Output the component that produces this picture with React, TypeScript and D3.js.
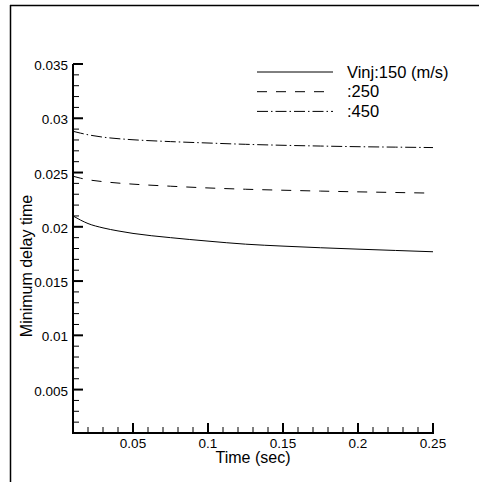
import React from "react";
import * as d3 from "d3";

const times = [0.01, 0.015, 0.02, 0.03, 0.04, 0.05, 0.075, 0.1, 0.125, 0.15, 0.175, 0.2, 0.225, 0.25];
const v150 = [0.021, 0.02062, 0.0203, 0.0199, 0.01962, 0.01939, 0.019, 0.01868, 0.0184, 0.01822, 0.01807, 0.01794, 0.01782, 0.0177];
const v250 = [0.02466, 0.02448, 0.02434, 0.02416, 0.02403, 0.02393, 0.02374, 0.02358, 0.02346, 0.02337, 0.02329, 0.02322, 0.02316, 0.0231];
const v450 = [0.0288, 0.02863, 0.02848, 0.02826, 0.02812, 0.02802, 0.02785, 0.02772, 0.0276, 0.02751, 0.02744, 0.02738, 0.02734, 0.0273];
const seriesNames = ["Vinj:150 (m/s)", ":250", ":450"];
const xMajor = [0.05, 0.1, 0.15, 0.2, 0.25];
const xMinor = [0.02, 0.03, 0.04, 0.06, 0.07, 0.08, 0.09, 0.11, 0.12, 0.13, 0.14, 0.16, 0.17, 0.18, 0.19, 0.21, 0.22, 0.23, 0.24];
const yMajor = [0.005, 0.01, 0.015, 0.02, 0.025, 0.03, 0.035];
const yMinor = d3.range(2, 35).filter((k) => k % 5 !== 0).map((k) => k / 1000);
const xLabels = ["0.05", "0.1", "0.15", "0.2", "0.25"];
const yLabels = ["0.005", "0.01", "0.015", "0.02", "0.025", "0.03", "0.035"];

const W = 479;
const H = 482;
const L = 73, R = 433, T = 64, B = 433;
const FONT = "'Liberation Sans', Arial, sans-serif";

export default function App() {
  const x = d3.scaleLinear().domain([0.01, 0.25]).range([L, R]);
  const y = d3.scaleLinear().domain([0.001, 0.035]).range([B, T]);
  const line = d3
    .line<number>()
    .x((_, i) => x(times[i]))
    .y((d) => y(d))
    .curve(d3.curveMonotoneX);
  const series = [
    { vals: v150, dash: "none" },
    { vals: v250, dash: "10 9" },
    { vals: v450, dash: "11 3 1.5 3" },
  ];
  return (
    <svg
      width={W}
      height={H}
      style={{ position: "absolute", left: 0, top: 0, background: "#fff" }}
      fontFamily={FONT}
    >
      <rect x={0} y={0} width={W} height={H} fill="#fff" />
      {/* outer frame */}
      <line x1={10.5} y1={5} x2={10.5} y2={H} stroke="#000" strokeWidth={1.5} />
      <line x1={10} y1={5.5} x2={W} y2={5.5} stroke="#000" strokeWidth={1.5} />

      {/* data */}
      {series.map((s, i) => (
        <path
          key={i}
          d={line(s.vals) || ""}
          fill="none"
          stroke="#000"
          strokeWidth={1}
          strokeDasharray={s.dash}
        />
      ))}

      {/* axes */}
      <line x1={L} y1={T} x2={L} y2={B} stroke="#000" strokeWidth={2} />
      <line x1={L - 1} y1={B} x2={R + 1} y2={B} stroke="#000" strokeWidth={2} />
      {xMajor.map((v, i) => (
        <g key={"xm" + i}>
          <line x1={x(v)} y1={B} x2={x(v)} y2={B - 10} stroke="#000" strokeWidth={2} />
          <text x={x(v)} y={447.5} fontSize={13.5} textAnchor="middle">
            {xLabels[i]}
          </text>
        </g>
      ))}
      {xMinor.map((v, i) => (
        <line key={"xn" + i} x1={x(v)} y1={B} x2={x(v)} y2={B - 6} stroke="#000" strokeWidth={1} />
      ))}
      {yMajor.map((v, i) => (
        <g key={"ym" + i}>
          <line x1={L} y1={y(v)} x2={L + 10} y2={y(v)} stroke="#000" strokeWidth={2} />
          <text x={68} y={y(v) + 6} fontSize={13.5} textAnchor="end">
            {yLabels[i]}
          </text>
        </g>
      ))}
      {yMinor.map((v, i) => (
        <line key={"yn" + i} x1={L} y1={y(v)} x2={L + 6} y2={y(v)} stroke="#000" strokeWidth={1} />
      ))}

      {/* axis titles */}
      <text x={253} y={463} fontSize={16} textAnchor="middle">
        Time (sec)
      </text>
      <text
        transform={`translate(31.5,266) rotate(-90)`}
        fontSize={16}
        textAnchor="middle"
      >
        Minimum delay time
      </text>

      {/* legend */}
      {series.map((s, i) => (
        <g key={"lg" + i}>
          <line
            x1={257}
            x2={333}
            y1={72 + i * 19.7}
            y2={72 + i * 19.7}
            stroke="#000"
            strokeWidth={1}
            strokeDasharray={s.dash}
          />
          <text x={347} y={77.5 + i * 19.8} fontSize={16.5}>
            {seriesNames[i]}
          </text>
        </g>
      ))}
    </svg>
  );
}
